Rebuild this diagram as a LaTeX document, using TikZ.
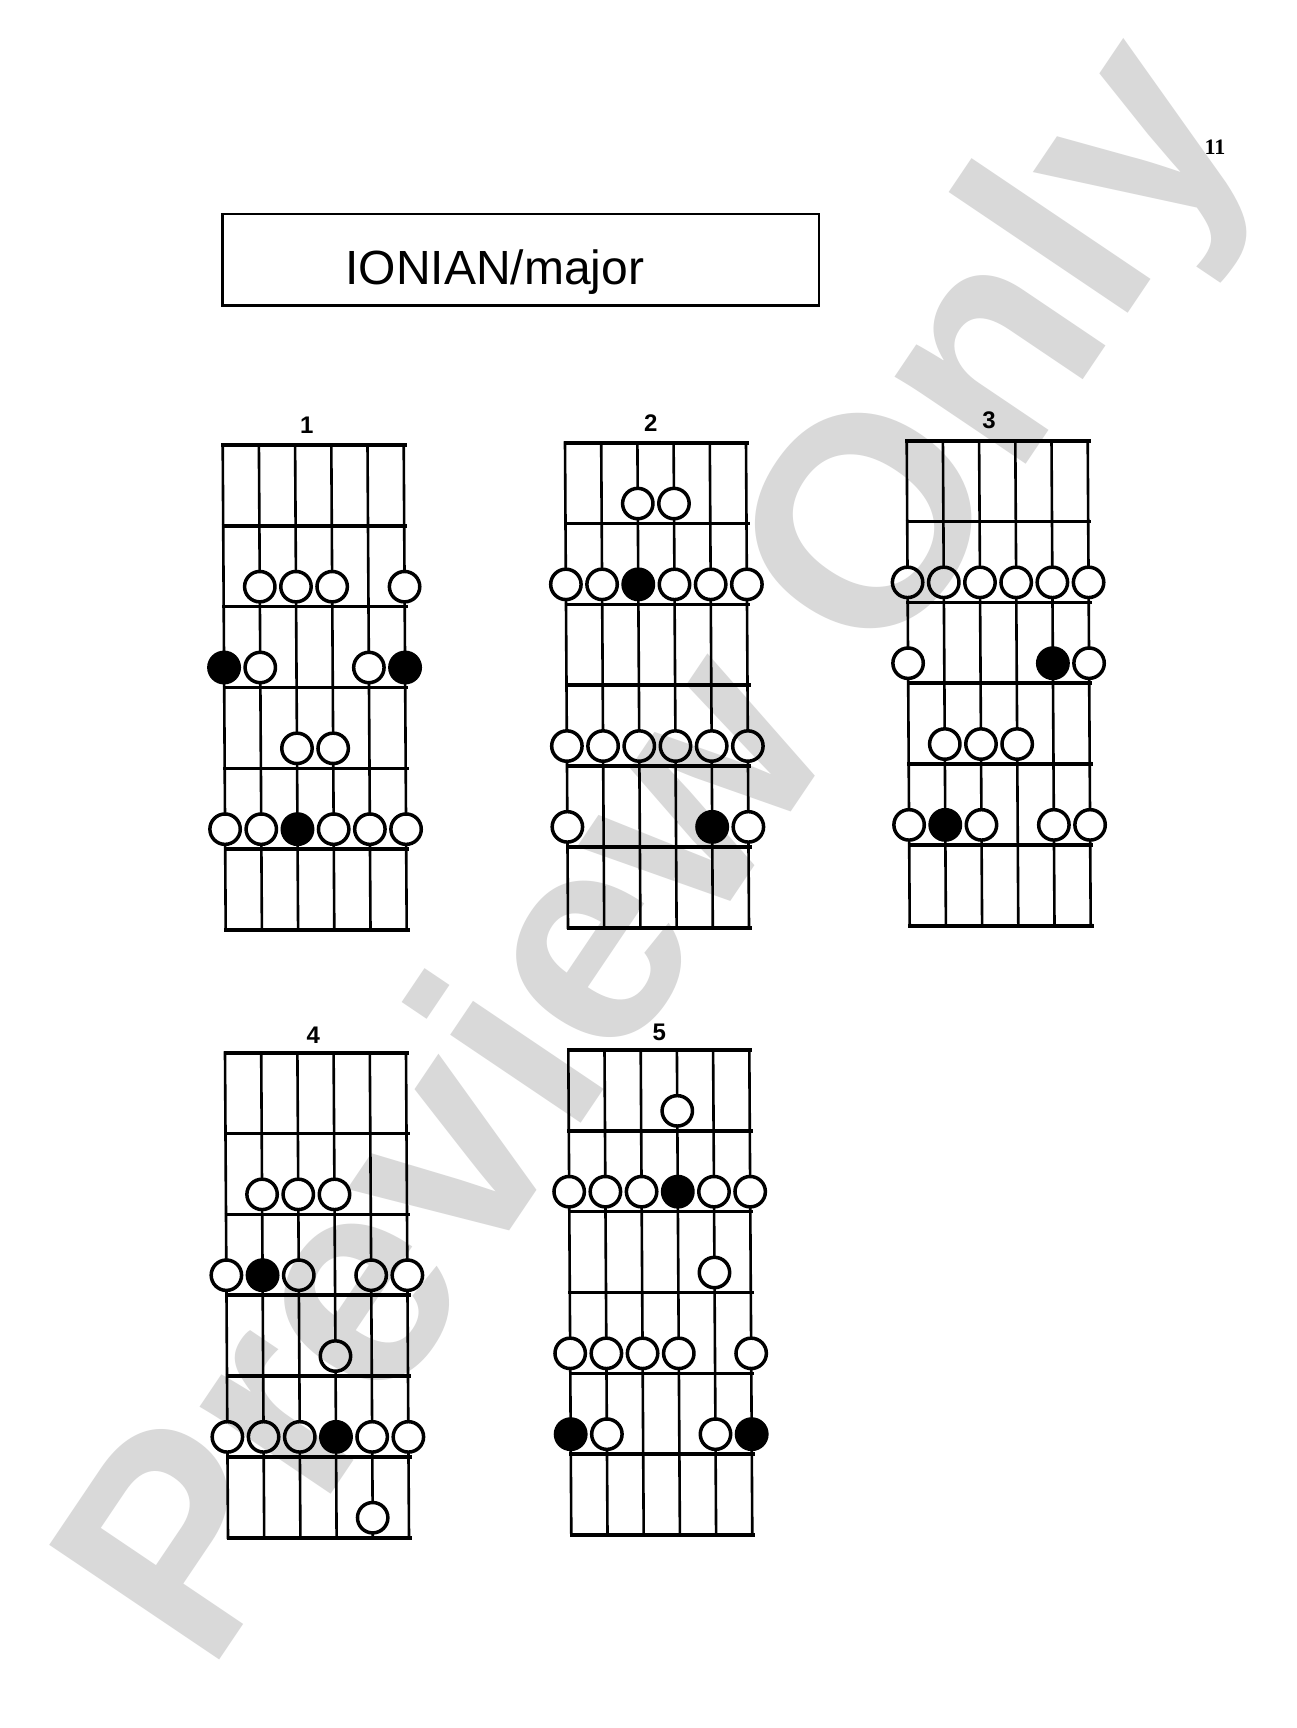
\documentclass[tikz,border=0pt]{standalone}
\usepackage{fontspec}
\setmainfont{Liberation Sans}
\newfontfamily\pagenumfont{Liberation Serif}
\def\W{181}
\def\H{485}
\def\S{3}
\tikzset{
  stringline/.style={line width=2.6pt, line cap=rect},
  fretline/.style={line width=3.6pt},
  od/.style={draw, line width=3.5pt, fill=white},
  fd/.style={draw, line width=3.5pt, fill=black},
  numlabel/.style={font=\fontsize{24}{24}\selectfont\bfseries, inner sep=0pt},
}
\newcommand\fboard[3]{%
  \begin{scope}[shift={(#1,#2)}]
    \foreach \i in {0,...,5}
      \draw[stringline] ({\i*\W/5},0) -- ({\i*\W/5+\S},\H);
    \foreach \j in {0,...,6}
      \draw[fretline] ({\j*\S/6-1.5},{\j*\H/6}) -- ({\W+\j*\S/6+3},{\j*\H/6});
    \foreach \s/\f/\t in {#3}
      \draw[\t] ({(\s-1)*\W/5+\S*(\f*\H/6-20)/\H},{\f*\H/6-20}) circle[radius=15.2];
  \end{scope}}
\begin{document}
\begin{tikzpicture}[x=1pt,y=-1pt]
\useasboundingbox[fill=white] (0,0) rectangle (1296,1728);
% page number
\node[font=\pagenumfont\fontsize{22}{22}\selectfont\bfseries, inner sep=0pt] (pagenum) at (1215,147) {11};
% title box
\draw[line width=2.4pt] (222.6,213.8) rectangle (818.8,305.3);
\node[font=\fontsize{48}{48}\selectfont, inner sep=0pt, anchor=base] (title) at (494.8,284.3) {IONIAN/major};
% labels
\node[numlabel] (lab1) at (306.7,425) {1};
\node[numlabel] (lab2) at (650.7,423.3) {2};
\node[numlabel] (lab3) at (989,420.7) {3};
\node[numlabel] (lab4) at (313.3,1035) {4};
\node[numlabel] (lab5) at (659.3,1032.7) {5};
% diagram 1
\fboard{222.7}{445}{2/2/od,3/2/od,4/2/od,6/2/od,1/3/fd,2/3/od,5/3/od,6/3/fd,3/4/od,4/4/od,1/5/od,2/5/od,3/5/fd,4/5/od,5/5/od,6/5/od}
% diagram 2
\fboard{565}{442.7}{3/1/od,4/1/od,1/2/od,2/2/od,3/2/fd,4/2/od,5/2/od,6/2/od,1/4/od,2/4/od,3/4/od,4/4/od,5/4/od,6/4/od,1/5/od,5/5/fd,6/5/od}
% diagram 3
\fboard{906.7}{440.7}{1/2/od,2/2/od,3/2/od,4/2/od,5/2/od,6/2/od,1/3/od,5/3/fd,6/3/od,2/4/od,3/4/od,4/4/od,1/5/od,2/5/fd,3/5/od,5/5/od,6/5/od}
% diagram 4
\fboard{225}{1052.7}{2/2/od,3/2/od,4/2/od,1/3/od,2/3/fd,3/3/od,5/3/od,6/3/od,4/4/od,1/5/od,2/5/od,3/5/od,4/5/fd,5/5/od,6/5/od,5/6/od}
% diagram 5
\fboard{568.3}{1050}{4/1/od,1/2/od,2/2/od,3/2/od,4/2/fd,5/2/od,6/2/od,5/3/od,1/4/od,2/4/od,3/4/od,4/4/od,6/4/od,1/5/fd,2/5/od,5/5/od,6/5/fd}
% watermark
\begin{scope}[blend mode=multiply]
\node[font=\fontsize{298}{298}\selectfont\bfseries, text=black!15, inner sep=0pt, anchor=base, rotate=56] (watermark) at (732,900.5) {Preview Only};
\end{scope}
\end{tikzpicture}
\end{document}
